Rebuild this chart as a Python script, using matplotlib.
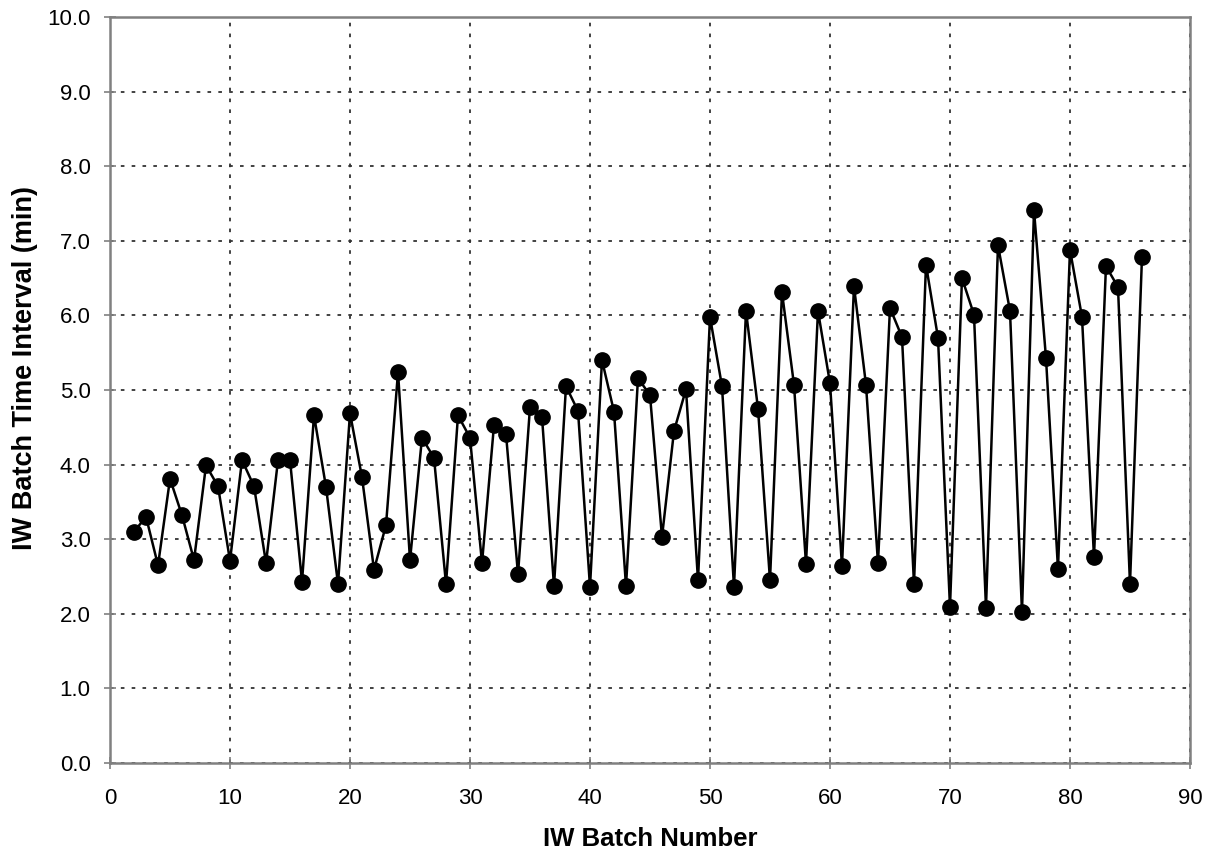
import matplotlib.pyplot as plt
import numpy as np

batch = np.arange(2, 87)
interval = [
    3.10, 3.30, 2.65, 3.81, 3.32, 2.72, 3.99, 3.71, 2.71, 4.06,
    3.71, 2.68, 4.06, 4.06, 2.43, 4.66, 3.70, 2.40, 4.69, 3.83,
    2.59, 3.19, 5.24, 2.72, 4.36, 4.09, 2.40, 4.66, 4.36, 2.68,
    4.53, 4.41, 2.53, 4.77, 4.64, 2.37, 5.05, 4.72, 2.36, 5.40,
    4.71, 2.37, 5.16, 4.93, 3.03, 4.45, 5.01, 2.45, 5.98, 5.05,
    2.36, 6.06, 4.75, 2.45, 6.31, 5.07, 2.67, 6.06, 5.09, 2.64,
    6.39, 5.07, 2.68, 6.10, 5.71, 2.40, 6.68, 5.70, 2.09, 6.50,
    6.01, 2.08, 6.94, 6.06, 2.02, 7.41, 5.43, 2.60, 6.88, 5.98,
    2.76, 6.66, 6.38, 2.40, 6.78,
]

plt.rcParams["font.family"] = ["Liberation Sans", "DejaVu Sans"]

fig = plt.figure(figsize=(12.17, 8.55), dpi=100)
ax = fig.add_axes([0.0904, 0.1076, 0.8874, 0.8725])

ax.plot(batch, interval, color="black", linewidth=1.8, marker="o",
        markersize=11, markerfacecolor="black", markeredgecolor="black")

ax.set_xlim(0, 90)
ax.set_ylim(0, 10)
ax.set_xticks(np.arange(0, 91, 10))
ax.set_yticks(np.arange(0, 10.1, 1))
ax.set_yticklabels([f"{v:.1f}" for v in np.arange(0, 10.1, 1)])

ax.grid(True, color="#333333", linestyle=(0, (2, 4)), linewidth=1.3)
for s in ax.spines.values():
    s.set_color("#808080")
    s.set_linewidth(1.8)
ax.tick_params(direction="inout", length=8, width=1.2, color="#808080",
               labelsize=16)
ax.tick_params(axis="x", pad=14)
ax.tick_params(axis="y", pad=10)

ax.set_xlabel("IW Batch Number", fontsize=18.5, fontweight="bold", va="center")
ax.set_ylabel("IW Batch Time Interval (min)", fontsize=19.5, fontweight="bold", va="center")
ax.xaxis.set_label_coords(650 / 1217, 1 - 839 / 855, transform=fig.transFigure)
ax.yaxis.set_label_coords(25 / 1217, 1 - 368 / 855, transform=fig.transFigure)

fig.savefig("out.png", dpi=100)
